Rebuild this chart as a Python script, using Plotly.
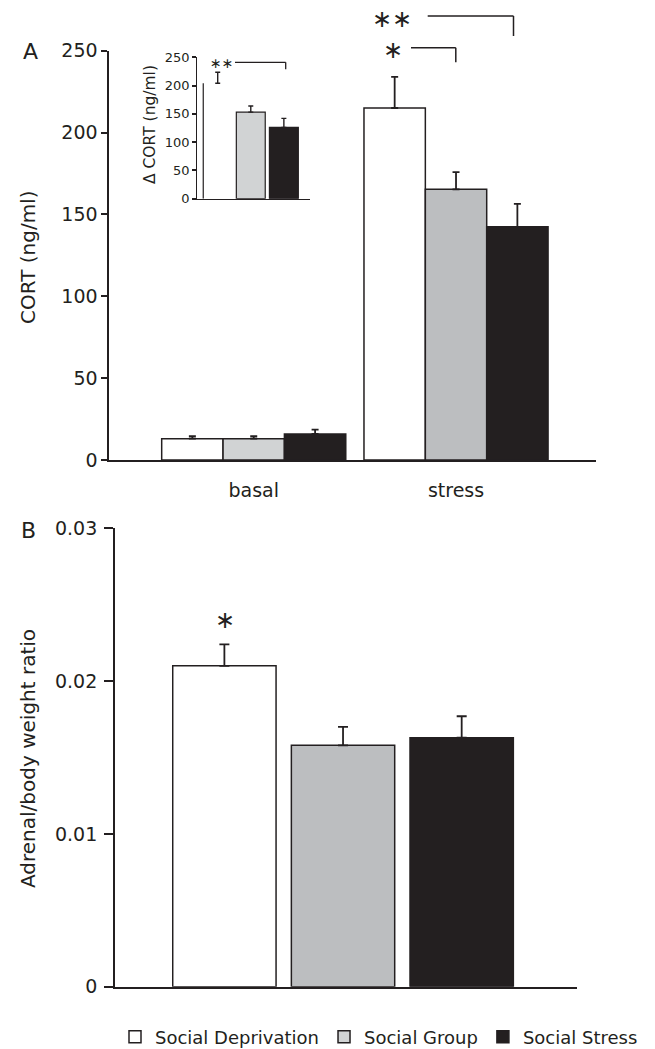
import plotly.graph_objects as go

W, H = 655, 1049
INK = "#231f20"
FONT = "DejaVu Sans"

# ---------------- data ----------------
groups = ["Social Deprivation", "Social Group", "Social Stress"]
conditions = ["basal", "stress"]

cort_basal = [13.0, 13.0, 15.9]
cort_basal_err = [1.5, 1.5, 2.6]
cort_stress = [215.0, 165.3, 142.4]
cort_stress_err = [19.0, 10.5, 14.0]

delta_cort = [204.0, 153.0, 126.0]
delta_cort_err = [19.5, 11.0, 16.0]

adrenal_ratio = [0.0210, 0.0158, 0.0163]
adrenal_ratio_err = [0.0014, 0.0012, 0.0014]

cort_ticks = [0, 50, 100, 150, 200, 250]
ratio_ticks = [0, 0.01, 0.02, 0.03]
ratio_ticklabels = ["0", "0.01", "0.02", "0.03"]

# ---------------- styles ----------------
fills_main = ["#ffffff", "#bcbec0", INK]
fills_light = ["#ffffff", "#d1d3d4", INK]


def px(x):
    return x / W


def py(y):
    return 1 - y / H


fig = go.Figure()

# Panel A: grouped bars
for i, g in enumerate(groups):
    fig.add_trace(go.Bar(
        x=conditions,
        y=[cort_basal[i], cort_stress[i]],
        name=g,
        marker=dict(color=[fills_light[i], fills_main[i]], line=dict(color=INK, width=1.5)),
        error_y=dict(type="data", array=[cort_basal_err[i], cort_stress_err[i]],
                     arrayminus=[0, 0], symmetric=False,
                     color=INK, thickness=1.8, width=3.5),
        xaxis="x", yaxis="y", showlegend=True,
    ))

# Inset: delta CORT
w_in = 0.874
for i, g in enumerate(groups):
    fig.add_trace(go.Bar(
        x=[g], y=[delta_cort[i]], name=g, width=w_in, offset=-w_in / 2,
        marker=dict(color=fills_light[i],
                    line=dict(color="#ffffff" if i == 0 else INK, width=1.2)),
        error_y=dict(type="data", array=[delta_cort_err[i]], arrayminus=[0], symmetric=False,
                     color=INK, thickness=1.4, width=2.5),
        xaxis="x3", yaxis="y3", showlegend=False,
    ))

# Panel B: adrenal/body weight ratio
w_b = 0.871
for i, g in enumerate(groups):
    fig.add_trace(go.Bar(
        x=[g], y=[adrenal_ratio[i]], name=g, width=w_b, offset=-w_b / 2,
        marker=dict(color=fills_main[i], line=dict(color=INK, width=1.5)),
        error_y=dict(type="data", array=[adrenal_ratio_err[i]], arrayminus=[0], symmetric=False,
                     color=INK, thickness=1.8, width=5),
        xaxis="x2", yaxis="y2", showlegend=False,
    ))


def axis(**kw):
    base = dict(showgrid=False, zeroline=False, showline=True, linecolor=INK, linewidth=1.8,
                tickfont=dict(family=FONT, size=19, color=INK), ticks="outside",
                tickcolor=INK, tickwidth=1.5)
    base.update(kw)
    return base


# inset left edge of the white bar (from data)
fig.add_shape(type="line", xref="x3", yref="y3", x0=-w_in / 2, x1=-w_in / 2,
              y0=0, y1=delta_cort[0], line=dict(color=INK, width=1.2))


# significance brackets (annotation graphics, paper coords)
def bracket(x0, x1, y0, y1, width=1.5):
    fig.add_shape(type="line", xref="paper", yref="paper", x0=px(x0), x1=px(x1),
                  y0=py(y0), y1=py(y0), line=dict(color=INK, width=width))
    fig.add_shape(type="line", xref="paper", yref="paper", x0=px(x1), x1=px(x1),
                  y0=py(y0), y1=py(y1), line=dict(color=INK, width=width))


bracket(427.7, 513.5, 16, 36)
bracket(411, 455.8, 47.7, 62.3)
bracket(235, 285.7, 62.3, 69.3, 1.3)


def text(x, y, t, size, angle=0, xanchor="center"):
    fig.add_annotation(x=px(x), y=py(y), xref="paper", yref="paper", text=t, showarrow=False,
                       textangle=angle, xanchor=xanchor, yanchor="middle",
                       font=dict(family=FONT, size=size, color=INK))


text(392, 19, "\u2217\u2217", 24)
text(393, 50, "\u2217", 24)
text(222, 63, "\u2217\u2217", 14)
text(224.5, 620, "\u2217", 24)
text(30, 52, "A", 22)
text(28, 530, "B", 22)
text(28, 258, "CORT (ng/ml)", 20, -90)
text(28, 759, "Adrenal/body weight ratio", 20, -90)
text(150, 125, "\u0394 CORT (ng/ml)", 15.5, -90)

fig.update_layout(
    width=W, height=H,
    margin=dict(l=0, r=0, t=0, b=0, pad=0, autoexpand=False),
    paper_bgcolor="white", plot_bgcolor="white",
    barmode="group", bargap=0.09, bargroupgap=0,
    font=dict(family=FONT, color=INK),
    xaxis=axis(ticks="", domain=[px(109.3), px(596)], range=[-0.714, 1.692],
               anchor="y", ticklabelstandoff=12),
    yaxis=axis(domain=[py(460), py(50.7)], range=[0, 250], tickvals=cort_ticks,
               ticklen=6, anchor="x"),
    xaxis2=axis(ticks="", domain=[px(115), px(577)], range=[-0.922, 2.972],
                showticklabels=False, anchor="y2",
                categoryorder="array", categoryarray=groups),
    yaxis2=axis(domain=[py(986.7), py(528.3)], range=[0, 0.03], tickvals=ratio_ticks,
                ticktext=ratio_ticklabels, ticklen=9, ticklabelstandoff=3, anchor="x2"),
    xaxis3=axis(ticks="", domain=[px(197.3), px(310)], range=[-0.617, 2.79],
                showticklabels=False, anchor="y3", linewidth=1.3,
                categoryorder="array", categoryarray=groups),
    yaxis3=axis(tickfont=dict(family=FONT, size=13, color=INK),
                domain=[py(198.7), py(57.3)], range=[0, 250], tickvals=cort_ticks,
                ticklen=4, linewidth=1.3, anchor="x3"),
    legend=dict(orientation="h", x=px(115), xanchor="left", y=py(1037), yanchor="middle",
                font=dict(family=FONT, size=18, color=INK), bgcolor="rgba(0,0,0,0)",
                traceorder="normal"),
)

fig.write_html("out.html", config={"displayModeBar": False},
               post_script="document.body.style.margin='0';document.body.style.padding='0';")
